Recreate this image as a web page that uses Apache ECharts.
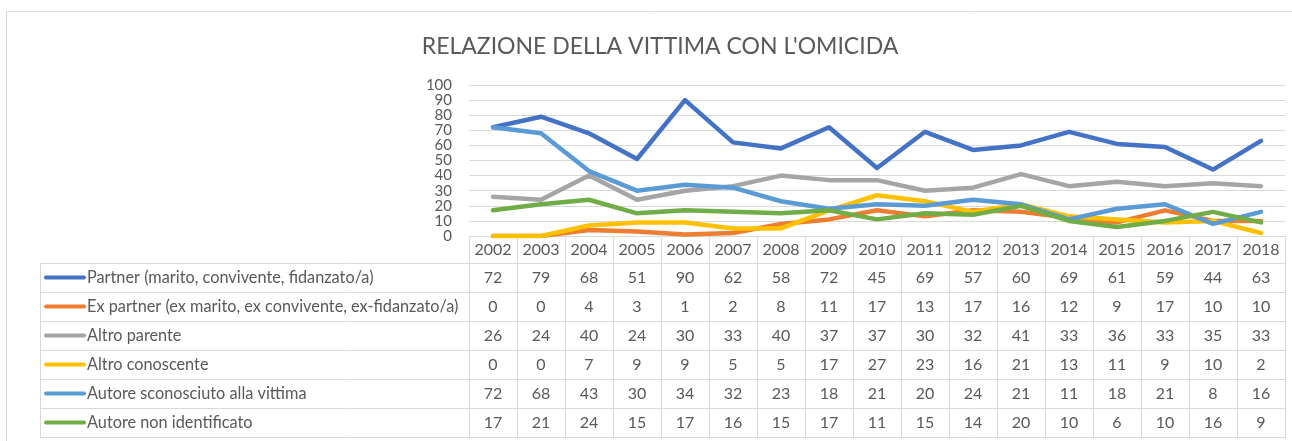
<!DOCTYPE html>
<html>
<head>
<meta charset="utf-8">
<title>Relazione della vittima con l'omicida</title>
<script src="https://cdn.jsdelivr.net/npm/echarts@6/dist/echarts.min.js"></script>
<style>
    html, body { margin: 0; padding: 0; background: #fff; }
    #chart { width: 1292px; height: 441px; }
</style>
</head>
<body>
<div id="chart"></div>
<script>
    // dati
    var anni = ['2002', '2003', '2004', '2005', '2006', '2007', '2008', '2009', '2010', '2011', '2012', '2013', '2014', '2015', '2016', '2017', '2018'];
    var nomi = ['Partner (marito, convivente, fidanzato/a)', 'Ex partner (ex marito, ex convivente, ex-fidanzato/a)', 'Altro parente', 'Altro conoscente', 'Autore sconosciuto alla vittima', 'Autore non identificato'];
    var partner = [72, 79, 68, 51, 90, 62, 58, 72, 45, 69, 57, 60, 69, 61, 59, 44, 63];
    var exPartner = [0, 0, 4, 3, 1, 2, 8, 11, 17, 13, 17, 16, 12, 9, 17, 10, 10];
    var altroParente = [26, 24, 40, 24, 30, 33, 40, 37, 37, 30, 32, 41, 33, 36, 33, 35, 33];
    var altroConoscente = [0, 0, 7, 9, 9, 5, 5, 17, 27, 23, 16, 21, 13, 11, 9, 10, 2];
    var sconosciuto = [72, 68, 43, 30, 34, 32, 23, 18, 21, 20, 24, 21, 11, 18, 21, 8, 16];
    var nonIdentificato = [17, 21, 24, 15, 17, 16, 15, 17, 11, 15, 14, 20, 10, 6, 10, 16, 9];
    var yTicks = [0, 10, 20, 30, 40, 50, 60, 70, 80, 90, 100];

    var valori = [partner, exPartner, altroParente, altroConoscente, sconosciuto, nonIdentificato];
    var colori = ['#4472C4', '#ED7D31', '#A5A5A5', '#FFC000', '#5B9BD5', '#70AD47'];
    var font = 'Lato, "Liberation Sans", sans-serif';
    var grigioTesto = '#595959';
    var grigioLinea = '#D9D9D9';

    var myChart = echarts.init(document.getElementById('chart'), null, {renderer: 'canvas'});

    var series = valori.map(function (d, i) {
        return {
            name: nomi[i],
            type: 'line',
            data: d,
            showSymbol: false,
            symbol: 'none',
            silent: true,
            lineStyle: {color: colori[i], width: 4.5, cap: 'round', join: 'round'}
        };
    });

    var option = {
        animation: false,
        title: {
            text: "RELAZIONE DELLA VITTIMA CON L'OMICIDA",
            left: 655,
            textAlign: 'center',
            top: 30,
            textStyle: {fontFamily: font, fontSize: 23, fontWeight: 'normal', color: grigioTesto}
        },
        grid: {left: 469, right: 7, top: 85, bottom: 205, containLabel: false},
        xAxis: {
            type: 'category',
            data: anni,
            boundaryGap: true,
            axisLine: {show: true, lineStyle: {color: grigioLinea, width: 1}},
            axisTick: {show: true, interval: 0, length: 202, lineStyle: {color: grigioLinea, width: 1}},
            axisLabel: {interval: 0, margin: 6, color: grigioTesto, fontFamily: font, fontSize: 16}
        },
        yAxis: {
            type: 'value',
            min: yTicks[0],
            max: yTicks[yTicks.length - 1],
            interval: 10,
            axisLine: {show: false},
            axisTick: {show: false},
            splitLine: {lineStyle: {color: grigioLinea, width: 1}},
            axisLabel: {margin: 17, color: grigioTesto, fontFamily: font, fontSize: 15}
        },
        series: series
    };
    myChart.setOption(option);

    // tabella dati sotto il grafico
    var righeY = [263, 292, 321, 350, 379, 408, 437];
    var tabLeft = 40, tabRight = 1285;
    var elementi = [];
    elementi.push({
        type: 'rect', silent: true,
        shape: {x: 6.5, y: 11.5, width: 1300, height: 440},
        style: {fill: 'none', stroke: grigioLinea, lineWidth: 1}
    });
    righeY.forEach(function (y) {
        elementi.push({
            type: 'line', silent: true,
            shape: {x1: tabLeft, y1: y + 0.5, x2: tabRight, y2: y + 0.5},
            style: {stroke: grigioLinea, lineWidth: 1}
        });
    });
    elementi.push({
        type: 'line', silent: true,
        shape: {x1: tabLeft + 0.5, y1: righeY[0], x2: tabLeft + 0.5, y2: righeY[righeY.length - 1]},
        style: {stroke: grigioLinea, lineWidth: 1}
    });
    valori.forEach(function (d, r) {
        var yc = (righeY[r] + righeY[r + 1]) / 2;
        elementi.push({
            type: 'line', silent: true,
            shape: {x1: 46, y1: yc, x2: 84, y2: yc},
            style: {stroke: colori[r], lineWidth: 4, lineCap: 'round'}
        });
        elementi.push({
            type: 'text', silent: true,
            x: 87, y: yc,
            style: {text: nomi[r], fill: grigioTesto, font: '16.3px ' + font, textAlign: 'left', textVerticalAlign: 'middle'}
        });
        d.forEach(function (v, c) {
            var px = myChart.convertToPixel({xAxisIndex: 0}, c);
            elementi.push({
                type: 'text', silent: true,
                x: px, y: yc,
                style: {text: String(v), fill: grigioTesto, font: '16px ' + font, textAlign: 'center', textVerticalAlign: 'middle'}
            });
        });
    });
    myChart.setOption({graphic: elementi});
</script>
</body>
</html>
